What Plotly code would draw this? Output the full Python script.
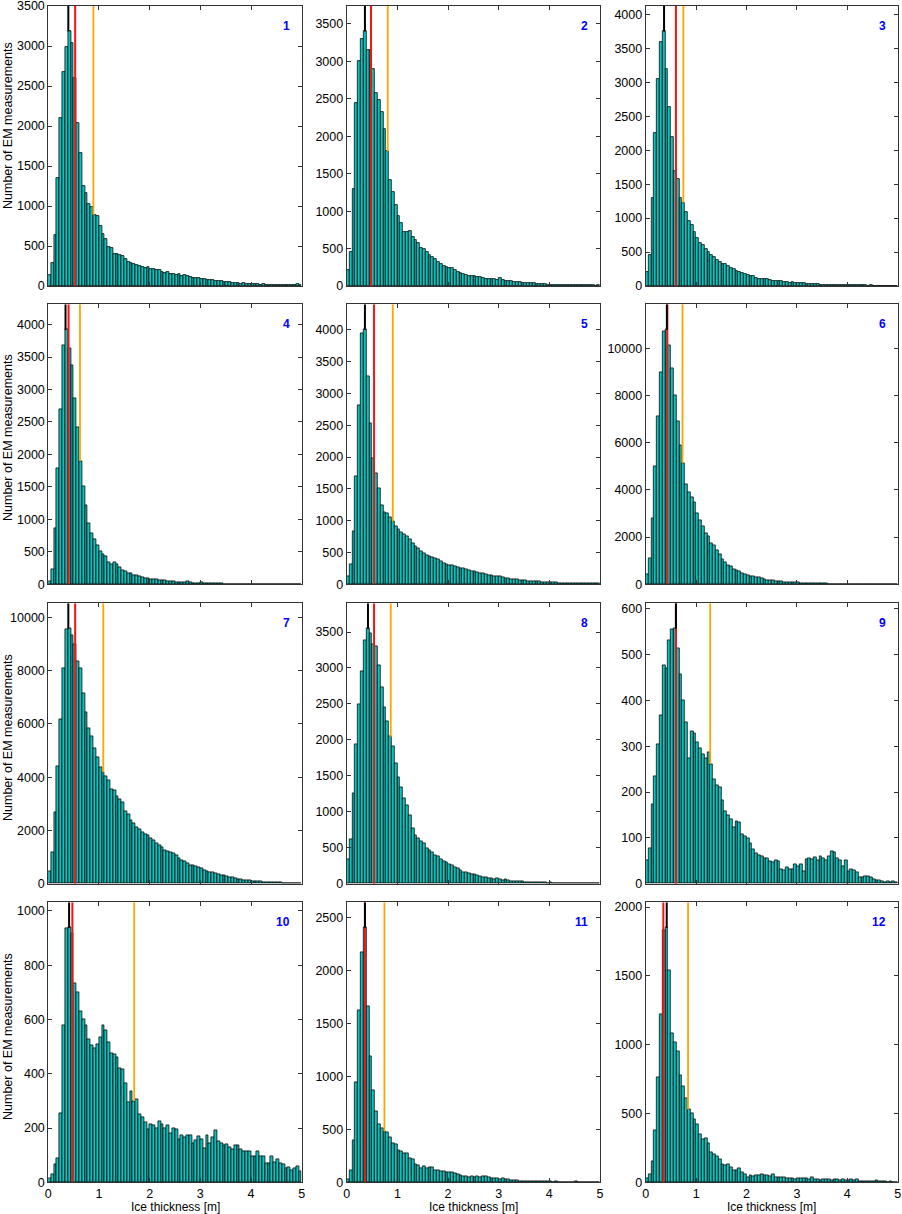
import plotly.graph_objects as go

# ---------------- data ----------------
BIN_WIDTH = 5.0 / 90  # histogram bin width [m]

counts_1 = [140, 290, 640, 1350, 2100, 2670, 2985, 3182, 3040, 2600,
            2040, 1660, 1250, 1160, 1025, 990, 890, 870, 750, 645,
            585, 485, 470, 400, 400, 390, 370, 340, 300, 285,
            278, 262, 250, 242, 225, 235, 218, 210, 200, 195,
            180, 165, 170, 155, 150, 140, 145, 130, 135, 125,
            110, 105, 100, 95, 90, 88, 80, 78, 75, 65,
            62, 58, 55, 52, 45, 40, 42, 35, 30, 32,
            28, 25, 25, 20, 22, 18, 20, 15, 17, 14,
            15, 12, 14, 12, 15, 12, 18, 14, 20, 15]
counts_2 = [220, 450, 1300, 2450, 3000, 3300, 3400, 3150, 3150, 2900,
            2580, 2480, 2320, 2100, 1800, 1410, 1260, 1080, 940, 845,
            720, 720, 740, 660, 620, 570, 510, 495, 460, 420,
            385, 355, 325, 300, 270, 250, 245, 235, 215, 190,
            175, 160, 150, 140, 135, 130, 120, 115, 110, 100,
            90, 92, 95, 80, 110, 75, 70, 66, 62, 60,
            55, 50, 45, 44, 40, 38, 35, 30, 28, 25,
            24, 20, 20, 18, 17, 15, 14, 12, 13, 11,
            12, 10, 9, 10, 8, 9, 7, 8, 6, 7]
counts_3 = [200, 450, 1290, 2260, 3050, 3590, 3750, 3190, 2640, 2200,
            1700, 1570, 1300, 1230, 1090, 960, 900, 800, 700, 640,
            600, 550, 500, 460, 420, 380, 360, 330, 320, 300,
            260, 250, 220, 205, 195, 180, 165, 150, 150, 125,
            110, 110, 105, 100, 95, 80, 80, 75, 70, 60,
            55, 50, 55, 45, 40, 45, 38, 35, 30, 28,
            30, 25, 22, 20, 22, 18, 20, 15, 17, 14,
            15, 12, 14, 10, 12, 9, 10, 8, 9, 7,
            8, 6, 7, 5, 6, 5, 4, 6, 4, 5]
counts_4 = [50, 235, 855, 1780, 2700, 3680, 3920, 3630, 3370, 2870,
            2415, 1900, 1515, 1210, 940, 785, 695, 595, 515, 460,
            425, 345, 310, 340, 310, 255, 220, 195, 165, 165,
            145, 135, 120, 110, 95, 90, 80, 75, 70, 60,
            55, 58, 45, 40, 42, 35, 30, 32, 28, 45,
            25, 22, 20, 18, 28, 15, 12, 12, 10, 9,
            8, 10, 7, 6, 7, 5, 5, 4, 5, 3,
            4, 3, 3, 2, 3, 2, 2, 3, 2, 1,
            2, 1, 2, 1, 1, 2, 1, 1, 1, 1]
counts_5 = [120, 315, 840, 1690, 2820, 3950, 4000, 3265, 2530, 1980,
            1745, 1510, 1237, 1130, 1115, 1050, 985, 905, 860, 820,
            790, 750, 700, 640, 600, 560, 520, 490, 460, 435,
            420, 410, 395, 357, 330, 315, 300, 295, 280, 265,
            250, 245, 230, 215, 210, 200, 190, 175, 170, 150,
            147, 140, 130, 120, 118, 105, 98, 95, 85, 80,
            72, 70, 65, 58, 55, 50, 45, 42, 40, 35,
            33, 31, 28, 25, 24, 22, 20, 19, 18, 17,
            15, 14, 15, 12, 13, 11, 12, 10, 11, 9]
counts_6 = [420, 1100, 2800, 4990, 7100, 8980, 10700, 10780, 10140, 9150,
            8020, 6890, 5900, 5130, 4240, 3900, 3700, 3470, 3010, 2725,
            2445, 2160, 2020, 1740, 1640, 1450, 1270, 1060, 920, 800,
            750, 635, 610, 535, 480, 440, 395, 360, 325, 300,
            280, 250, 210, 190, 170, 155, 140, 130, 115, 105,
            95, 88, 80, 70, 65, 58, 52, 48, 42, 38,
            35, 30, 28, 25, 22, 20, 18, 16, 14, 12,
            11, 10, 9, 8, 7, 6, 6, 5, 5, 4,
            4, 3, 3, 3, 2, 2, 2, 2, 1, 1]
counts_7 = [475, 1180, 2680, 4400, 6190, 8095, 9535, 9570, 9320, 9000,
            8345, 8070, 7155, 6440, 5840, 5525, 5090, 4740, 4360, 4185,
            4020, 3900, 3560, 3520, 3300, 3180, 3060, 2730, 2605, 2395,
            2270, 2120, 2050, 1930, 1850, 1805, 1705, 1640, 1500, 1430,
            1380, 1265, 1230, 1180, 1140, 1050, 950, 890, 825, 780,
            700, 675, 640, 600, 575, 515, 475, 440, 415, 390,
            350, 325, 300, 275, 240, 225, 200, 175, 160, 140,
            125, 115, 100, 90, 85, 75, 62, 60, 50, 48,
            45, 40, 35, 32, 30, 28, 25, 22, 22, 20]
counts_8 = [340, 620, 1260, 1940, 2490, 2960, 3380, 3545, 3480, 3325,
            3300, 3035, 2730, 2450, 2255, 2045, 1910, 1675, 1475, 1335,
            1190, 1085, 955, 770, 680, 630, 595, 560, 490, 470,
            435, 400, 375, 340, 305, 300, 270, 250, 225, 210,
            190, 165, 160, 150, 130, 125, 110, 100, 95, 85,
            75, 80, 65, 70, 55, 50, 60, 48, 40, 35,
            38, 30, 28, 25, 22, 24, 20, 18, 15, 16,
            14, 12, 18, 11, 10, 9, 10, 8, 7, 8,
            6, 7, 5, 6, 5, 4, 5, 4, 3, 4]
counts_9 = [50, 77, 174, 235, 305, 368, 476, 470, 531, 554,
            556, 513, 456, 400, 352, 274, 333, 328, 308, 295,
            283, 274, 287, 261, 227, 214, 210, 183, 159, 150,
            140, 123, 137, 134, 108, 103, 99, 88, 75, 66,
            63, 59, 55, 55, 48, 47, 52, 48, 32, 30,
            35, 32, 32, 42, 39, 42, 28, 54, 55, 54,
            57, 52, 59, 56, 52, 60, 70, 68, 55, 50,
            37, 50, 28, 31, 30, 25, 13, 13, 17, 17,
            15, 10, 8, 8, 6, 4, 6, 3, 5, 4]
counts_10 = [15, 30, 65, 90, 255, 580, 935, 938, 918, 735,
             700, 630, 600, 580, 528, 505, 495, 510, 535, 578,
             560, 515, 475, 470, 460, 420, 415, 365, 295, 335,
             300, 305, 250, 240, 220, 195, 215, 210, 200, 225,
             215, 200, 210, 180, 200, 195, 160, 175, 165, 175,
             175, 145, 155, 170, 160, 125, 175, 145, 165, 190,
             150, 145, 135, 140, 130, 120, 135, 135, 120, 115,
             115, 115, 95, 95, 115, 95, 95, 70, 70, 95,
             75, 85, 70, 65, 50, 55, 45, 50, 60, 40]
counts_11 = [30, 110, 400, 940, 1620, 2170, 2400, 1660, 1190, 870,
             670, 545, 505, 480, 470, 420, 370, 360, 300, 290,
             275, 270, 225, 220, 170, 160, 130, 150, 135, 140,
             140, 110, 110, 100, 105, 95, 90, 95, 85, 75,
             65, 60, 55, 50, 55, 50, 55, 50, 60, 55,
             45, 40, 35, 40, 30, 35, 25, 30, 20, 22,
             15, 10, 8, 10, 7, 8, 6, 10, 8, 6,
             5, 7, 5, 4, 5, 3, 4, 3, 2, 3,
             2, 5, 3, 2, 4, 2, 3, 2, 0, 0]
counts_12 = [30, 60, 150, 380, 760, 1220, 1830, 1850, 1540, 1080,
             1020, 950, 780, 700, 610, 530, 500, 460, 420, 350,
             310, 320, 285, 215, 200, 190, 165, 130, 120, 130,
             110, 90, 90, 100, 75, 55, 40, 50, 45, 50,
             48, 55, 50, 52, 45, 55, 35, 40, 35, 38,
             30, 28, 30, 25, 30, 30, 28, 32, 25, 35,
             25, 22, 18, 25, 20, 22, 18, 20, 22, 15,
             20, 18, 15, 22, 12, 25, 10, 8, 10, 6,
             8, 5, 15, 5, 4, 5, 3, 4, 2, 3]

all_counts = [counts_1, counts_2, counts_3, counts_4, counts_5, counts_6,
              counts_7, counts_8, counts_9, counts_10, counts_11, counts_12]

# mode (black), median (red), mean (orange) ice thickness [m]
mode_m = [0.395, 0.36, 0.364, 0.34, 0.36, 0.42, 0.395, 0.42, 0.60, 0.41, 0.36, 0.417]
median_m = [0.53, 0.48, 0.60, 0.40, 0.54, 0.43, 0.53, 0.54, 0.60, 0.475, 0.36, 0.35]
mean_m = [0.89, 0.81, 0.747, 0.625, 0.91, 0.73, 1.085, 0.87, 1.28, 1.695, 0.745, 0.84]

panel_labels = ["1", "2", "3", "4", "5", "6", "7", "8", "9", "10", "11", "12"]
y_dtick = [500, 500, 500, 500, 500, 2000, 2000, 500, 100, 200, 500, 500]
x_ticks = [0, 1, 2, 3, 4, 5]
x_title = "Ice thickness [m]"
y_title = "Number of EM measurements"

# ---------------- layout constants ----------------
W, H = 902, 1214
col_px = [(48.3, 301.7), (346.7, 600.0), (645.7, 897.7)]
row_px = [(6.0, 286.0), (304.3, 584.3), (603.3, 883.7), (902.3, 1182.3)]
ytitle_center_px = [126, 438, 738, 1037]
BAR_COLOR = "rgb(12,194,190)"
FONT = "Liberation Sans, Arial, Helvetica, sans-serif"
FRAME = "#333333"
TICK_FONT = dict(family=FONT, size=12.5, color="black")

centers = [(i + 0.5) * BIN_WIDTH for i in range(90)]

fig = go.Figure()
layout = dict(
    width=W, height=H, margin=dict(l=0, r=0, t=0, b=0),
    template="none", plot_bgcolor="white", paper_bgcolor="white",
    showlegend=False, bargap=0, font=dict(family=FONT, size=12, color="black"),
)
shapes = []
annotations = []

for k in range(12):
    r, c = divmod(k, 3)
    sfx = "" if k == 0 else str(k + 1)
    xa, ya = "x" + sfx, "y" + sfx
    counts = all_counts[k]
    ymax = max(counts) * 1.1

    fig.add_trace(go.Bar(
        x=centers, y=counts, width=BIN_WIDTH, xaxis=xa, yaxis=ya,
        marker=dict(color=BAR_COLOR, line=dict(color="black", width=0.75)),
        hoverinfo="skip",
    ))

    x0p, x1p = col_px[c]
    t_p, b_p = row_px[r]
    layout["xaxis" + sfx] = dict(
        domain=[x0p / W, x1p / W], anchor=ya, range=[0, 5],
        tickvals=x_ticks, ticktext=[str(v) for v in x_ticks],
        showticklabels=(r == 3), ticks="inside", ticklen=4, tickwidth=1,
        tickcolor=FRAME, showline=True, linecolor=FRAME, linewidth=1,
        mirror="ticks", showgrid=False, zeroline=False, automargin=False,
        tickfont=TICK_FONT, ticklabeloverflow="allow", fixedrange=True,
    )
    layout["yaxis" + sfx] = dict(
        domain=[1 - b_p / H, 1 - t_p / H], anchor=xa, range=[0, ymax],
        tick0=0, dtick=y_dtick[k], tickformat="d", ticks="inside", ticklen=4,
        tickwidth=1, tickcolor=FRAME, showline=True, linecolor=FRAME, linewidth=1,
        mirror="ticks", showgrid=False, zeroline=False, automargin=False,
        tickfont=TICK_FONT, ticklabeloverflow="allow", fixedrange=True,
    )

    # median line (red) drawn over the bars for the full height
    shapes.append(dict(type="line", xref=xa, yref=ya, x0=median_m[k], x1=median_m[k],
                       y0=0, y1=ymax, line=dict(color="#ff1010", width=2), layer="above"))
    # mode (black) and mean (orange) lines start at the top of the bar they cross
    for val, col, lw in ((mode_m[k], "black", 2), (mean_m[k], "#ffa500", 1.8)):
        idx = min(int(val / BIN_WIDTH), len(counts) - 1)
        shapes.append(dict(type="line", xref=xa, yref=ya, x0=val, x1=val,
                           y0=counts[idx], y1=ymax, line=dict(color=col, width=lw),
                           layer="above"))

    annotations.append(dict(
        text="<b>" + panel_labels[k] + "</b>", xref=xa + " domain", yref=ya + " domain",
        x=1, y=1, xanchor="right", yanchor="middle", xshift=-10, yshift=-20,
        showarrow=False, font=dict(family=FONT, size=12, color="#0000ff"),
    ))

    if c == 0:
        annotations.append(dict(
            text=y_title, xref="paper", yref="paper", x=8 / W,
            y=1 - ytitle_center_px[r] / H, textangle=-90, showarrow=False,
            xanchor="center", yanchor="middle",
            font=dict(family=FONT, size=12.5, color="black"),
        ))
    if r == 3:
        annotations.append(dict(
            text=x_title, xref="paper", yref="paper", x=(x0p + x1p) / 2 / W,
            y=1 - 1206.5 / H, showarrow=False, xanchor="center", yanchor="middle",
            font=dict(family=FONT, size=12, color="black"),
        ))

layout["shapes"] = shapes
layout["annotations"] = annotations
fig.update_layout(**layout)
fig.write_html(
    "out.html",
    config={"displayModeBar": False},
    post_script="document.body.style.margin='0';document.body.style.padding='0';"
                "document.documentElement.style.overflow='hidden';",
)
